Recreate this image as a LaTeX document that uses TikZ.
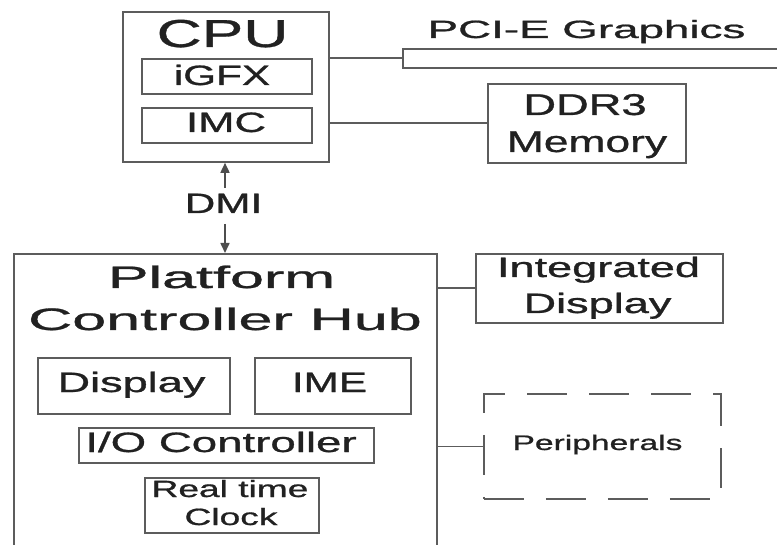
\documentclass[tikz,border=0pt]{standalone}
\usepackage{fontspec}
\setmainfont{Liberation Sans}
\newfontfamily\dgfont{Liberation Sans}[FakeBold=0.8]
\usepackage{graphicx}
\usetikzlibrary{arrows.meta}
\definecolor{linec}{gray}{0.36}
\definecolor{textc}{gray}{0.13}
\newcommand\tl[3]{{\dgfont\fontsize{#1}{#1}\selectfont\scalebox{#2}[1]{#3}}}
\begin{document}
\begin{tikzpicture}[x=1pt,y=-1pt,
  box/.style={draw=linec, line width=1.8pt, inner sep=0pt, anchor=north west},
  dbox/.style={box, dash pattern=on 40pt off 22pt},
  txt/.style={anchor=base, inner sep=0pt, text=textc},
  conn/.style={draw=linec, line width=1.8pt},
  dmi/.style={draw=textc!80!white, line width=1.6pt, -{Triangle[width=9pt,length=10pt]}}]
\useasboundingbox (0,0) rectangle (777,545);
\fill[white] (0,0) rectangle (777,545);
\clip (0,0) rectangle (777,545);
% CPU
\node[box, minimum width=206, minimum height=150] (cpu) at (122,11) {};
\node[txt] (tcpu) at (222.5,47) {\tl{39}{1.6}{CPU}};
\node[box, minimum width=170, minimum height=35] (igfx) at (141,58) {};
\node[txt] (tigfx) at (222,85) {\tl{28}{1.51}{iGFX}};
\node[box, minimum width=170, minimum height=35] (imc) at (141,107) {};
\node[txt] (timc) at (226,132) {\tl{28}{1.56}{IMC}};
% PCI-E
\node[box, minimum width=400, minimum height=19] (pcie) at (402,48) {};
\node[txt] (tpcie) at (586.5,38) {\tl{25}{1.83}{PCI-E Graphics}};
% DDR3
\node[box, minimum width=198, minimum height=79] (ddr) at (487,83) {};
\node[txt] (tddr1) at (585,115) {\tl{30}{1.51}{DDR3}};
\node[txt] (tddr2) at (587,152) {\tl{30}{1.48}{Memory}};
% PCH
\node[box, minimum width=423, minimum height=320] (pch) at (13,253) {};
\node[txt] (tpch1) at (221.5,288) {\tl{31}{1.97}{Platform}};
\node[txt] (tpch2) at (225,330) {\tl{31}{1.97}{Controller Hub}};
\node[box, minimum width=192, minimum height=56] (disp) at (37,357) {};
\node[txt] (tdisp) at (131.5,392) {\tl{28}{1.61}{Display}};
\node[box, minimum width=156, minimum height=56] (ime) at (254,357) {};
\node[txt] (time) at (329.5,392) {\tl{28}{1.51}{IME}};
\node[box, minimum width=295, minimum height=35] (ioc) at (78,427) {};
\node[txt] (tioc) at (221,452) {\tl{28}{1.63}{I/O Controller}};
\node[box, minimum width=174, minimum height=55] (rtc) at (144,477) {};
\node[txt] (trtc1) at (230,497) {\tl{23.5}{1.58}{Real time}};
\node[txt] (trtc2) at (231,525) {\tl{23.5}{1.58}{Clock}};
% Integrated display
\node[box, minimum width=247, minimum height=69] (idisp) at (475,253) {};
\node[txt] (tidisp1) at (598.5,277) {\tl{28}{1.61}{Integrated}};
\node[txt] (tidisp2) at (597.5,313) {\tl{28}{1.61}{Display}};
% Peripherals
\node[dbox, minimum width=237, minimum height=105] (peri) at (483,393) {};
\node[txt] (tperi) at (597.5,450) {\tl{21}{1.6}{Peripherals}};
% DMI
\node[txt] (tdmi) at (223.5,213) {\tl{28}{1.51}{DMI}};
\coordinate (dmiup) at (225,188);
\coordinate (dmidown) at (225,224);
\draw[dmi] (dmiup) -- (dmiup |- cpu.south);
\draw[dmi] (dmidown) -- (dmidown |- pch.north);
% connectors
\draw[conn] (cpu.east |- pcie.west) -- (pcie.west);
\draw[conn] (cpu.east |- ddr.west) -- (ddr.west);
\draw[conn] (pch.east |- idisp.west) -- (idisp.west);
\draw[conn] (pch.east |- peri.west) -- (peri.west);
\end{tikzpicture}
\end{document}
